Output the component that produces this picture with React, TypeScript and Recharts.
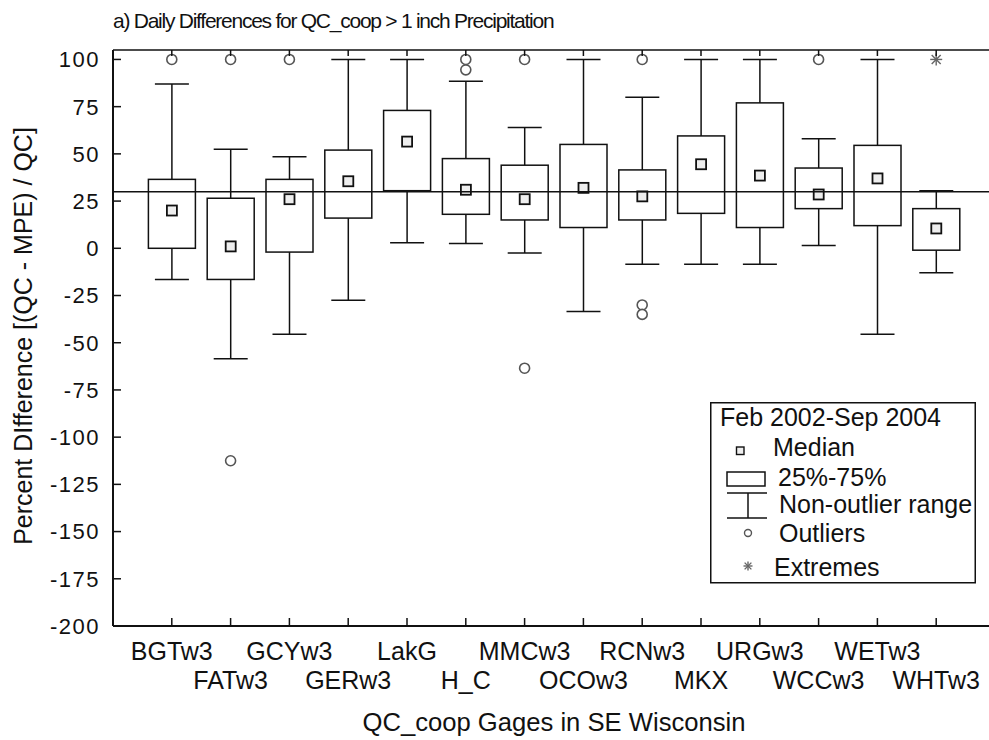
import React from "react";
import {
  ComposedChart,
  Bar,
  Scatter,
  XAxis,
  YAxis,
  ReferenceLine,
  Legend,
  Label,
} from "recharts";

const gages = [
  "BGTw3", "FATw3", "GCYw3", "GERw3", "LakG", "H_C", "MMCw3",
  "OCOw3", "RCNw3", "MKX", "URGw3", "WCCw3", "WETw3", "WHTw3",
];
// non-outlier range and quartiles
const lows = [-16.5, -58.5, -45.5, -27.5, 3, 2.5, -2.5, -33.5, -8.5, -8.5, -8.5, 1.5, -45.5, -13];
const q25s = [0, -16.5, -2, 16, 30.5, 18, 15, 11, 15, 18.5, 11, 21, 12, -1];
const medians = [20, 1, 26, 35.5, 56.5, 31, 26, 32, 27.5, 44.5, 38.5, 28.5, 37, 10.5];
const q75s = [36.5, 26.5, 36.5, 52, 73, 47.5, 44, 55, 41.5, 59.5, 77, 42.5, 54.5, 21];
const highs = [87, 52.5, 48.5, 100, 100, 88.5, 64, 100, 80, 100, 100, 58, 100, 30.5];

const outlierGages = ["BGTw3", "FATw3", "FATw3", "GCYw3", "H_C", "H_C", "MMCw3", "MMCw3", "RCNw3", "RCNw3", "RCNw3", "WCCw3"];
const outlierValues = [100, 100, -112.5, 100, 100, 94.5, 100, -63.5, 100, -30, -35, 100];
const extremeGages = ["WHTw3"];
const extremeValues = [100];

const yTicks = [-200, -175, -150, -125, -100, -75, -50, -25, 0, 25, 50, 75, 100];
const xTicks = gages.map((_, i) => i + 1);
const refValue = 30;

const title = "a) Daily Differences for QC_coop > 1 inch Precipitation";
const yTitle = "Percent DIfference [(QC - MPE) / QC]";
const xTitle = "QC_coop Gages in SE Wisconsin";
const legendTitle = "Feb 2002-Sep 2004";

const FONT = "'Liberation Sans', Arial, sans-serif";
const INK = "#111";

const rows = gages.map((g, i) => ({
  x: i + 1,
  gage: g,
  low: lows[i],
  q1: q25s[i],
  med: medians[i],
  q3: q75s[i],
  high: highs[i],
}));

const outlierData = outlierValues.map((v, i) => ({
  x: gages.indexOf(outlierGages[i]) + 1,
  y: v,
}));
const extremeData = extremeValues.map((v, i) => ({
  x: gages.indexOf(extremeGages[i]) + 1,
  y: v,
}));

// one bar spans low..high, the rest of the box is placed inside that span
const BoxShape = (props: any) => {
  const { x, y, width, height, payload } = props;
  if (!payload) return null;
  const top = Math.min(y, y + height);
  const bot = Math.max(y, y + height);
  const span = payload.high - payload.low || 1;
  const py = (v: number) => top + ((payload.high - v) / span) * (bot - top);
  const cx = x + width / 2;
  const cap = 17;
  const yq3 = py(payload.q3);
  const yq1 = py(payload.q1);
  const ym = py(payload.med);
  return (
    <g stroke={INK} strokeWidth={1.5} fill="none">
      <line x1={cx} y1={top} x2={cx} y2={yq3} />
      <line x1={cx} y1={yq1} x2={cx} y2={bot} />
      <line x1={cx - cap} y1={top} x2={cx + cap} y2={top} />
      <line x1={cx - cap} y1={bot} x2={cx + cap} y2={bot} />
      <rect x={x} y={yq3} width={width} height={yq1 - yq3} />
      <rect x={cx - 5} y={ym - 5} width={10} height={10} fill="#eee" strokeWidth={1.8} />
    </g>
  );
};

const OutlierShape = (props: any) => (
  <circle cx={props.cx} cy={props.cy} r={5} fill="#fff" stroke="#555" strokeWidth={1.6} />
);

const Asterisk = ({ cx, cy, r }: { cx: number; cy: number; r: number }) => {
  const d = r * 0.75;
  return (
    <g stroke="#666" strokeWidth={1.4}>
      <line x1={cx - r} y1={cy} x2={cx + r} y2={cy} />
      <line x1={cx} y1={cy - r} x2={cx} y2={cy + r} />
      <line x1={cx - d} y1={cy - d} x2={cx + d} y2={cy + d} />
      <line x1={cx - d} y1={cy + d} x2={cx + d} y2={cy - d} />
    </g>
  );
};

const ExtremeShape = (props: any) => <Asterisk cx={props.cx} cy={props.cy} r={6} />;

const BottomTick = (props: any) => {
  const { x, y, payload } = props;
  const idx = payload.value - 1;
  const row = idx % 2;
  return (
    <g>
      <line x1={x} y1={y} x2={x} y2={y - 8} stroke={INK} strokeWidth={1.5} />
      <text x={x} y={y + (row === 0 ? 34 : 63)} textAnchor="middle" fontSize={25} fontFamily={FONT} fill={INK}>
        {gages[idx]}
      </text>
    </g>
  );
};

const TopTick = (props: any) => {
  const { x, y } = props;
  return <line x1={x} y1={y} x2={x} y2={y + 6} stroke={INK} strokeWidth={1.5} />;
};

const LeftTick = (props: any) => {
  const { x, y, payload } = props;
  return (
    <g>
      <line x1={x} y1={y} x2={x + 8} y2={y} stroke={INK} strokeWidth={1.5} />
      <text x={x - 13} y={y} dy="0.36em" textAnchor="end" fontSize={22} letterSpacing={1.5} fontFamily={FONT} fill={INK}>
        {payload.value}
      </text>
    </g>
  );
};

const LegendBox = () => (
  <svg width={266} height={182} style={{ display: "block" }}>
    <g fontFamily={FONT} fontSize={25} fill={INK}>
      <rect x={0.75} y={0.75} width={264.5} height={180} fill="#fff" stroke={INK} strokeWidth={1.5} />
      <text x={10} y={24}>{legendTitle}</text>
      <rect x={26.5} y={45} width={7.5} height={7.5} fill="#eee" stroke={INK} strokeWidth={1.4} />
      <text x={63} y={54}>Median</text>
      <rect x={17} y={70} width={38} height={14} fill="none" stroke={INK} strokeWidth={1.5} />
      <text x={68} y={84}>25%-75%</text>
      <g stroke={INK} strokeWidth={1.5}>
        <line x1={17} y1={91} x2={57} y2={91} />
        <line x1={38} y1={91} x2={38} y2={116} />
        <line x1={17} y1={116} x2={57} y2={116} />
      </g>
      <text x={69} y={111}>Non-outlier range</text>
      <circle cx={38} cy={131} r={3.5} fill="#fff" stroke="#555" strokeWidth={1.4} />
      <text x={69} y={140}>Outliers</text>
      <Asterisk cx={38} cy={164} r={4.5} />
      <text x={64} y={174}>Extremes</text>
    </g>
  </svg>
);

export default function App() {
  return (
    <div
      style={{
        position: "absolute",
        left: 0,
        top: 0,
        width: 989,
        height: 740,
        overflow: "hidden",
        background: "#fff",
      }}
    >
      <ComposedChart
        width={1000}
        height={740}
        data={rows}
        margin={{ top: 40, right: 5, bottom: 0, left: 0 }}
      >
        <XAxis
          dataKey="x"
          type="number"
          domain={[0, 15]}
          ticks={xTicks}
          interval={0}
          height={114}
          tickSize={0}
          tickMargin={0}
          tickLine={false}
          tick={<BottomTick />}
          axisLine={{ stroke: INK, strokeWidth: 2 }}
        >
          <Label
            content={() => (
              <text x={554} y={731} textAnchor="middle" fontSize={25} fontFamily={FONT} fill={INK} textLength={383} lengthAdjust="spacingAndGlyphs">
                {xTitle}
              </text>
            )}
          />
        </XAxis>
        <XAxis
          xAxisId="top"
          dataKey="x"
          type="number"
          orientation="top"
          domain={[0, 15]}
          ticks={xTicks}
          interval={0}
          height={10}
          tickSize={0}
          tickMargin={0}
          tickLine={false}
          tick={<TopTick />}
          axisLine={{ stroke: INK, strokeWidth: 1.5 }}
        >
          <Label
            content={() => (
              <text x={113} y={28} fontSize={21} letterSpacing={-1.25} fontFamily={FONT} fill={INK}>
                {title}
              </text>
            )}
          />
        </XAxis>
        <YAxis
          type="number"
          domain={[-200, 105]}
          ticks={yTicks}
          interval={0}
          width={113}
          tickSize={0}
          tickMargin={0}
          tickLine={false}
          tick={<LeftTick />}
          axisLine={{ stroke: INK, strokeWidth: 2 }}
        >
          <Label
            content={() => (
              <text transform="translate(32,336) rotate(-90)" textAnchor="middle" fontSize={25} fontFamily={FONT} fill={INK}>
                {yTitle}
              </text>
            )}
          />
        </YAxis>
        <ReferenceLine y={refValue} stroke={INK} strokeWidth={1.5} />
        <Bar
          dataKey={(d: any) => [d.low, d.high]}
          barSize={47}
          shape={<BoxShape />}
          isAnimationActive={false}
        />
        <Scatter data={outlierData} dataKey="y" shape={<OutlierShape />} isAnimationActive={false} />
        <Scatter data={extremeData} dataKey="y" shape={<ExtremeShape />} isAnimationActive={false} />
        <Legend
          layout="vertical"
          align="center"
          verticalAlign="middle"
          wrapperStyle={{ left: 710, top: 402, width: 266, height: 182 }}
          content={() => <LegendBox />}
        />
      </ComposedChart>
    </div>
  );
}
